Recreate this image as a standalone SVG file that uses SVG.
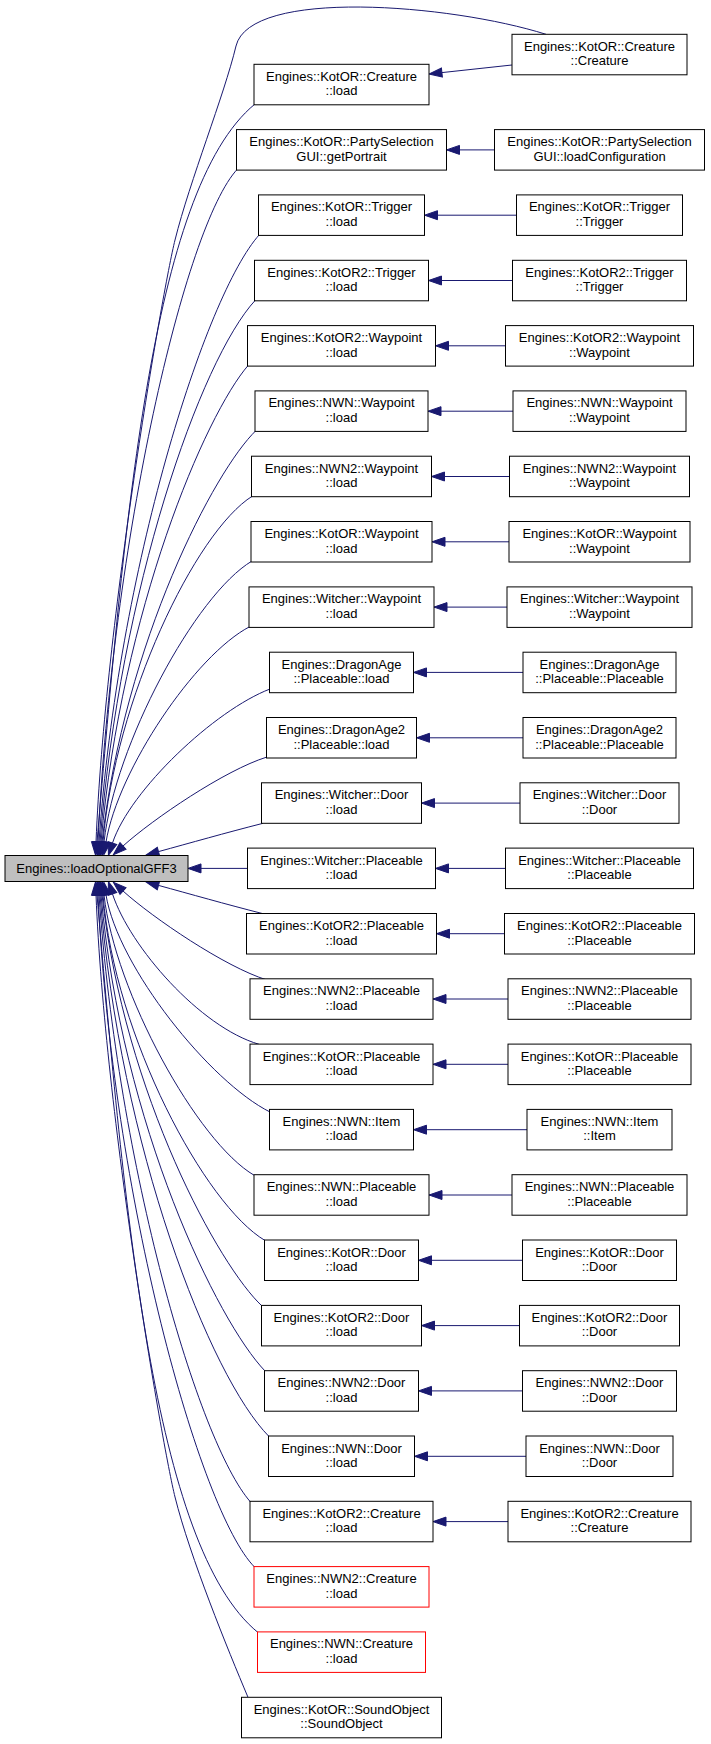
<svg xmlns="http://www.w3.org/2000/svg" width="711" height="1744" viewBox="0 0 711 1744">
<style>
.node rect{fill:#ffffff;stroke:#000000;stroke-width:1}
.node text{font-family:"Liberation Sans",Arial,Helvetica,sans-serif;font-size:13px;text-anchor:middle;fill:#000000}
.red rect{stroke:#ff0000}
.main rect{fill:#bfbfbf}
.edges path{fill:none;stroke:#191970;stroke-width:1;marker-end:url(#ah)}
</style>
<defs>
<marker id="ah" markerUnits="userSpaceOnUse" markerWidth="14" markerHeight="10" refX="0" refY="4.5" orient="auto" overflow="visible">
<path d="M0,0 L13,4.5 L0,9 Z" fill="#191970" stroke="#191970" stroke-width="1"/>
</marker>
</defs>
<rect x="0" y="0" width="711" height="1744" fill="#ffffff"/>
<g id="edges" class="edges">
<path d="M546,34.3 C450,4 250,-12 236,46 C224,96 190,180 175,240 C163,288 105,620 96,842"/>
<path d="M255,104 C150,190 124,530 97,842"/>
<path d="M237.5,169 C185,225 112,540 98,842"/>
<path d="M259.5,234.5 C205,295 118,570 99,842"/>
<path d="M255.5,300 C200,360 120,590 100,842"/>
<path d="M248.5,365 C205,415 122,610 101,842"/>
<path d="M256,430.5 C215,470 125,640 102,842"/>
<path d="M252.5,496 C195,532 115,700 103,842"/>
<path d="M252,561 C195,595 115,745 104,842"/>
<path d="M250,626.5 C195,655 118,770 106,842"/>
<path d="M270,689 C215,710 130,790 112.5,843"/>
<path d="M267,757 C225,770 153,819 123,846"/>
<path d="M263,823.3 C225,833 190,843 158.5,851.6"/>
<path d="M247.5,868.4 L201,868.4"/>
<path d="M263,913.7 C225,904 190,894 158.5,885.4"/>
<path d="M267,980 C225,967 153,918 123,891"/>
<path d="M259,1044.3 C200,1027 130,947 112.5,894"/>
<path d="M270,1112 C210,1082 118,967 106,895"/>
<path d="M254.5,1175.5 C197,1142 115,992 104,895"/>
<path d="M265,1240.5 C205,1205 115,1037 103,895"/>
<path d="M262,1306 C220,1267 125,1097 102,895"/>
<path d="M265,1371 C218,1322 122,1127 101,895"/>
<path d="M269,1436.5 C210,1377 120,1147 100,895"/>
<path d="M250.5,1502 C198,1442 118,1167 99,895"/>
<path d="M254.5,1567 C200,1512 112,1197 98,895"/>
<path d="M258,1632.5 C153,1547 124,1207 97,895"/>
<path d="M248,1697.3 C228,1650 190,1557 175,1497 C163,1449 105,1117 96,895"/>
<path d="M512,65 L441.9,72.6"/>
<path d="M494.5,149.9 L459.5,149.9"/>
<path d="M516.5,215.2 L437.5,215.2"/>
<path d="M512.5,280.5 L441.5,280.5"/>
<path d="M505.5,345.8 L448.5,345.8"/>
<path d="M513,411.2 L441,411.2"/>
<path d="M509.5,476.5 L444.5,476.5"/>
<path d="M509,541.8 L445,541.8"/>
<path d="M507,607.1 L447,607.1"/>
<path d="M523,672.4 L426.5,672.4"/>
<path d="M523,737.8 L429.5,737.8"/>
<path d="M520,803.1 L434.5,803.1"/>
<path d="M505.5,868.4 L448.5,868.4"/>
<path d="M504.5,933.7 L449.5,933.7"/>
<path d="M508,999 L446,999"/>
<path d="M508,1064.3 L446,1064.3"/>
<path d="M527,1129.7 L426.5,1129.7"/>
<path d="M512,1195 L442,1195"/>
<path d="M522.5,1260.3 L431.5,1260.3"/>
<path d="M519.5,1325.6 L434.5,1325.6"/>
<path d="M522.5,1390.9 L431.5,1390.9"/>
<path d="M526,1456.3 L427.5,1456.3"/>
<path d="M508,1521.6 L446,1521.6"/>
</g>
<g id="main" class="node main"><rect x="5" y="855.5" width="183" height="26"/><text x="96.5" y="873">Engines::loadOptionalGFF3</text></g>
<g id="rc0" class="node"><rect x="512" y="34.3" width="175" height="40.5"/><text x="599.5" y="50.8">Engines::KotOR::Creature</text><text x="599.5" y="65.3">::Creature</text></g>
<g id="l0" class="node"><rect x="254" y="64.3" width="175" height="40.5"/><text x="341.5" y="80.8">Engines::KotOR::Creature</text><text x="341.5" y="95.3">::load</text></g>
<g id="l1" class="node"><rect x="236.5" y="129.6" width="210" height="40.5"/><text x="341.5" y="146.1">Engines::KotOR::PartySelection</text><text x="341.5" y="160.6">GUI::getPortrait</text></g>
<g id="r1" class="node"><rect x="494.5" y="129.6" width="210" height="40.5"/><text x="599.5" y="146.1">Engines::KotOR::PartySelection</text><text x="599.5" y="160.6">GUI::loadConfiguration</text></g>
<g id="l2" class="node"><rect x="258.5" y="194.9" width="166" height="40.5"/><text x="341.5" y="211.4">Engines::KotOR::Trigger</text><text x="341.5" y="225.9">::load</text></g>
<g id="r2" class="node"><rect x="516.5" y="194.9" width="166" height="40.5"/><text x="599.5" y="211.4">Engines::KotOR::Trigger</text><text x="599.5" y="225.9">::Trigger</text></g>
<g id="l3" class="node"><rect x="254.5" y="260.3" width="174" height="40.5"/><text x="341.5" y="276.8">Engines::KotOR2::Trigger</text><text x="341.5" y="291.3">::load</text></g>
<g id="r3" class="node"><rect x="512.5" y="260.3" width="174" height="40.5"/><text x="599.5" y="276.8">Engines::KotOR2::Trigger</text><text x="599.5" y="291.3">::Trigger</text></g>
<g id="l4" class="node"><rect x="247.5" y="325.6" width="188" height="40.5"/><text x="341.5" y="342.1">Engines::KotOR2::Waypoint</text><text x="341.5" y="356.6">::load</text></g>
<g id="r4" class="node"><rect x="505.5" y="325.6" width="188" height="40.5"/><text x="599.5" y="342.1">Engines::KotOR2::Waypoint</text><text x="599.5" y="356.6">::Waypoint</text></g>
<g id="l5" class="node"><rect x="255" y="390.9" width="173" height="40.5"/><text x="341.5" y="407.4">Engines::NWN::Waypoint</text><text x="341.5" y="421.9">::load</text></g>
<g id="r5" class="node"><rect x="513" y="390.9" width="173" height="40.5"/><text x="599.5" y="407.4">Engines::NWN::Waypoint</text><text x="599.5" y="421.9">::Waypoint</text></g>
<g id="l6" class="node"><rect x="251.5" y="456.2" width="180" height="40.5"/><text x="341.5" y="472.7">Engines::NWN2::Waypoint</text><text x="341.5" y="487.2">::load</text></g>
<g id="r6" class="node"><rect x="509.5" y="456.2" width="180" height="40.5"/><text x="599.5" y="472.7">Engines::NWN2::Waypoint</text><text x="599.5" y="487.2">::Waypoint</text></g>
<g id="l7" class="node"><rect x="251" y="521.5" width="181" height="40.5"/><text x="341.5" y="538">Engines::KotOR::Waypoint</text><text x="341.5" y="552.5">::load</text></g>
<g id="r7" class="node"><rect x="509" y="521.5" width="181" height="40.5"/><text x="599.5" y="538">Engines::KotOR::Waypoint</text><text x="599.5" y="552.5">::Waypoint</text></g>
<g id="l8" class="node"><rect x="249" y="586.9" width="185" height="40.5"/><text x="341.5" y="603.4">Engines::Witcher::Waypoint</text><text x="341.5" y="617.9">::load</text></g>
<g id="r8" class="node"><rect x="507" y="586.9" width="185" height="40.5"/><text x="599.5" y="603.4">Engines::Witcher::Waypoint</text><text x="599.5" y="617.9">::Waypoint</text></g>
<g id="l9" class="node"><rect x="269.5" y="652.2" width="144" height="40.5"/><text x="341.5" y="668.7">Engines::DragonAge</text><text x="341.5" y="683.2">::Placeable::load</text></g>
<g id="r9" class="node"><rect x="523" y="652.2" width="153" height="40.5"/><text x="599.5" y="668.7">Engines::DragonAge</text><text x="599.5" y="683.2">::Placeable::Placeable</text></g>
<g id="l10" class="node"><rect x="266.5" y="717.5" width="150" height="40.5"/><text x="341.5" y="734">Engines::DragonAge2</text><text x="341.5" y="748.5">::Placeable::load</text></g>
<g id="r10" class="node"><rect x="523" y="717.5" width="153" height="40.5"/><text x="599.5" y="734">Engines::DragonAge2</text><text x="599.5" y="748.5">::Placeable::Placeable</text></g>
<g id="l11" class="node"><rect x="261.5" y="782.8" width="160" height="40.5"/><text x="341.5" y="799.3">Engines::Witcher::Door</text><text x="341.5" y="813.8">::load</text></g>
<g id="r11" class="node"><rect x="520" y="782.8" width="159" height="40.5"/><text x="599.5" y="799.3">Engines::Witcher::Door</text><text x="599.5" y="813.8">::Door</text></g>
<g id="l12" class="node"><rect x="247.5" y="848.1" width="188" height="40.5"/><text x="341.5" y="864.6">Engines::Witcher::Placeable</text><text x="341.5" y="879.1">::load</text></g>
<g id="r12" class="node"><rect x="505.5" y="848.1" width="188" height="40.5"/><text x="599.5" y="864.6">Engines::Witcher::Placeable</text><text x="599.5" y="879.1">::Placeable</text></g>
<g id="l13" class="node"><rect x="246.5" y="913.5" width="190" height="40.5"/><text x="341.5" y="930">Engines::KotOR2::Placeable</text><text x="341.5" y="944.5">::load</text></g>
<g id="r13" class="node"><rect x="504.5" y="913.5" width="190" height="40.5"/><text x="599.5" y="930">Engines::KotOR2::Placeable</text><text x="599.5" y="944.5">::Placeable</text></g>
<g id="l14" class="node"><rect x="250" y="978.8" width="183" height="40.5"/><text x="341.5" y="995.3">Engines::NWN2::Placeable</text><text x="341.5" y="1009.8">::load</text></g>
<g id="r14" class="node"><rect x="508" y="978.8" width="183" height="40.5"/><text x="599.5" y="995.3">Engines::NWN2::Placeable</text><text x="599.5" y="1009.8">::Placeable</text></g>
<g id="l15" class="node"><rect x="250" y="1044.1" width="183" height="40.5"/><text x="341.5" y="1060.6">Engines::KotOR::Placeable</text><text x="341.5" y="1075.1">::load</text></g>
<g id="r15" class="node"><rect x="508" y="1044.1" width="183" height="40.5"/><text x="599.5" y="1060.6">Engines::KotOR::Placeable</text><text x="599.5" y="1075.1">::Placeable</text></g>
<g id="l16" class="node"><rect x="269.5" y="1109.4" width="144" height="40.5"/><text x="341.5" y="1125.9">Engines::NWN::Item</text><text x="341.5" y="1140.4">::load</text></g>
<g id="r16" class="node"><rect x="527" y="1109.4" width="145" height="40.5"/><text x="599.5" y="1125.9">Engines::NWN::Item</text><text x="599.5" y="1140.4">::Item</text></g>
<g id="l17" class="node"><rect x="254" y="1174.7" width="175" height="40.5"/><text x="341.5" y="1191.2">Engines::NWN::Placeable</text><text x="341.5" y="1205.7">::load</text></g>
<g id="r17" class="node"><rect x="512" y="1174.7" width="175" height="40.5"/><text x="599.5" y="1191.2">Engines::NWN::Placeable</text><text x="599.5" y="1205.7">::Placeable</text></g>
<g id="l18" class="node"><rect x="264.5" y="1240" width="154" height="40.5"/><text x="341.5" y="1256.5">Engines::KotOR::Door</text><text x="341.5" y="1271">::load</text></g>
<g id="r18" class="node"><rect x="522.5" y="1240" width="154" height="40.5"/><text x="599.5" y="1256.5">Engines::KotOR::Door</text><text x="599.5" y="1271">::Door</text></g>
<g id="l19" class="node"><rect x="261.5" y="1305.4" width="160" height="40.5"/><text x="341.5" y="1321.9">Engines::KotOR2::Door</text><text x="341.5" y="1336.4">::load</text></g>
<g id="r19" class="node"><rect x="519.5" y="1305.4" width="160" height="40.5"/><text x="599.5" y="1321.9">Engines::KotOR2::Door</text><text x="599.5" y="1336.4">::Door</text></g>
<g id="l20" class="node"><rect x="264.5" y="1370.7" width="154" height="40.5"/><text x="341.5" y="1387.2">Engines::NWN2::Door</text><text x="341.5" y="1401.7">::load</text></g>
<g id="r20" class="node"><rect x="522.5" y="1370.7" width="154" height="40.5"/><text x="599.5" y="1387.2">Engines::NWN2::Door</text><text x="599.5" y="1401.7">::Door</text></g>
<g id="l21" class="node"><rect x="268.5" y="1436" width="146" height="40.5"/><text x="341.5" y="1452.5">Engines::NWN::Door</text><text x="341.5" y="1467">::load</text></g>
<g id="r21" class="node"><rect x="526" y="1436" width="147" height="40.5"/><text x="599.5" y="1452.5">Engines::NWN::Door</text><text x="599.5" y="1467">::Door</text></g>
<g id="l22" class="node"><rect x="250" y="1501.3" width="183" height="40.5"/><text x="341.5" y="1517.8">Engines::KotOR2::Creature</text><text x="341.5" y="1532.3">::load</text></g>
<g id="r22" class="node"><rect x="508" y="1501.3" width="183" height="40.5"/><text x="599.5" y="1517.8">Engines::KotOR2::Creature</text><text x="599.5" y="1532.3">::Creature</text></g>
<g id="l23" class="node red"><rect x="254" y="1566.6" width="175" height="40.5"/><text x="341.5" y="1583.1">Engines::NWN2::Creature</text><text x="341.5" y="1597.6">::load</text></g>
<g id="l24" class="node red"><rect x="257.5" y="1631.9" width="168" height="40.5"/><text x="341.5" y="1648.4">Engines::NWN::Creature</text><text x="341.5" y="1662.9">::load</text></g>
<g id="l25" class="node"><rect x="241.5" y="1697.3" width="200" height="40.5"/><text x="341.5" y="1713.8">Engines::KotOR::SoundObject</text><text x="341.5" y="1728.3">::SoundObject</text></g>
</svg>
